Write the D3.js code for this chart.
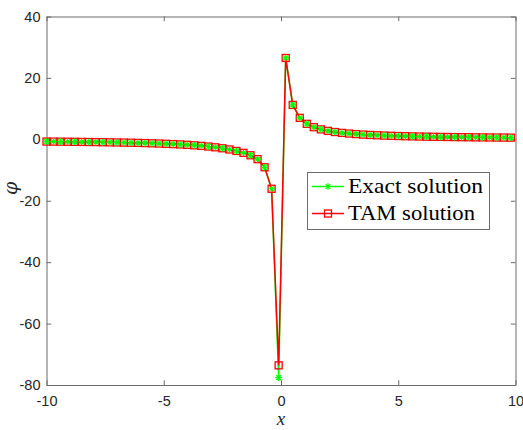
<!DOCTYPE html>
<html>
<head>
<meta charset="utf-8">
<script src="https://cdn.jsdelivr.net/npm/d3@7"></script>
<style>
  html, body { margin: 0; padding: 0; background: #fff; }
  svg { display: block; }
</style>
</head>
<body>
<svg id="chart" width="523" height="430"></svg>
<script>
// Sample points x = -10:0.3:9.8
const xs = d3.range(67).map(i => +(-10 + 0.3 * i).toFixed(1));

// TAM solution values at each sample point
const tamValues = [
  -0.72, -0.74, -0.76, -0.78, -0.81, -0.84, -0.87, -0.90, -0.94, -0.98,
  -1.02, -1.06, -1.11, -1.16, -1.22, -1.29, -1.37, -1.45, -1.55, -1.66,
  -1.80, -1.95, -2.12, -2.34, -2.60, -2.92, -3.30, -3.78, -4.40, -5.20,
  -6.45, -9.10, -16.1, -73.6,
  26.5, 11.2, 7.0, 5.05, 3.95, 3.25, 2.75, 2.38, 2.10, 1.88,
  1.70, 1.55, 1.43, 1.32, 1.23, 1.15, 1.08, 1.02, 0.96, 0.91,
  0.87, 0.83, 0.79, 0.76, 0.73, 0.70, 0.67, 0.65, 0.63, 0.61,
  0.59, 0.57, 0.55
];

// Exact solution values at each sample point
const exactValues = [
  -0.72, -0.74, -0.76, -0.78, -0.81, -0.84, -0.87, -0.90, -0.94, -0.98,
  -1.02, -1.06, -1.11, -1.16, -1.22, -1.29, -1.37, -1.45, -1.55, -1.66,
  -1.80, -1.95, -2.12, -2.34, -2.60, -2.92, -3.30, -3.78, -4.40, -5.20,
  -6.45, -9.10, -16.1, -77.6,
  26.5, 11.2, 7.0, 5.05, 3.95, 3.25, 2.75, 2.38, 2.10, 1.88,
  1.70, 1.55, 1.43, 1.32, 1.23, 1.15, 1.08, 1.02, 0.96, 0.91,
  0.87, 0.83, 0.79, 0.76, 0.73, 0.70, 0.67, 0.65, 0.63, 0.61,
  0.59, 0.57, 0.55
];

const xTicks = [-10, -5, 0, 5, 10];
const yTicks = [-80, -60, -40, -20, 0, 20, 40];
const seriesNames = ["Exact solution", "TAM solution"];

const margin = { left: 46.5, right: 515.5, top: 16.5, bottom: 385 };
const svg = d3.select("#chart");

const x = d3.scaleLinear().domain([-10, 10]).range([margin.left, margin.right]);
const y = d3.scaleLinear().domain([-80, 40]).range([margin.bottom, margin.top]);

const axisColor = "#6b6b6b";
const tickLen = 4.7;
const tickFont = "Liberation Sans, Arial, Helvetica, sans-serif";
const plainFmt = d => String(d);   // hyphen-minus, as in the printed labels

// Axes: bottom/left with labels, top/right mirrored ticks only
const gx = svg.append("g").attr("transform", `translate(0,${margin.bottom})`)
  .call(d3.axisBottom(x).tickValues(xTicks).tickFormat(plainFmt)
    .tickSizeInner(-tickLen).tickSizeOuter(0).tickPadding(11));
const gy = svg.append("g").attr("transform", `translate(${margin.left},0)`)
  .call(d3.axisLeft(y).tickValues(yTicks).tickFormat(plainFmt)
    .tickSizeInner(-tickLen).tickSizeOuter(0).tickPadding(6));
const gxt = svg.append("g").attr("transform", `translate(0,${margin.top})`)
  .call(d3.axisTop(x).tickValues(xTicks).tickSizeInner(-tickLen).tickSizeOuter(0).tickFormat(""));
const gyr = svg.append("g").attr("transform", `translate(${margin.right},0)`)
  .call(d3.axisRight(y).tickValues(yTicks).tickSizeInner(-tickLen).tickSizeOuter(0).tickFormat(""));

[gx, gy, gxt, gyr].forEach(g => {
  g.select(".domain").attr("stroke", axisColor).attr("stroke-width", 1);
  g.selectAll(".tick line").attr("stroke", axisColor).attr("stroke-width", 1);
  g.selectAll(".tick text").attr("fill", "#262626")
    .style("font-family", tickFont).style("font-size", "14.5px");
});
gx.selectAll(".tick text").attr("dy", "0.71em");

// Axis titles
svg.append("text")
  .attr("x", x(0)).attr("y", 425)
  .attr("text-anchor", "middle")
  .style("font-family", "Liberation Serif, Times New Roman, serif")
  .style("font-style", "italic").style("font-size", "19px")
  .attr("fill", "#262626")
  .text("x");
svg.append("text")
  .attr("transform", `translate(17,${y(-16)}) rotate(-90)`)
  .attr("text-anchor", "middle")
  .style("font-family", "DejaVu Serif, Liberation Serif, serif")
  .style("font-style", "italic").style("font-size", "19px")
  .attr("fill", "#262626")
  .text("φ");

const green = "#00ff00";
const red = "#ff0000";

const pts = (vals) => xs.map((d, i) => [d, vals[i]]);
const line = d3.line().x(d => x(d[0])).y(d => y(d[1]));

// Asterisk marker path (MATLAB style '*')
function asterisk(r) {
  const a = r * 0.7071;
  return `M${-r},0L${r},0M0,${-r}L0,${r}M${-a},${-a}L${a},${a}M${-a},${a}L${a},${-a}`;
}

// Exact solution: green line with asterisks
svg.append("path").datum(pts(exactValues))
  .attr("d", line).attr("fill", "none")
  .attr("stroke", green).attr("stroke-width", 1.5);

// TAM solution: red line with open squares
const tam = pts(tamValues);
svg.append("path").datum(tam)
  .attr("d", line).attr("fill", "none")
  .attr("stroke", red).attr("stroke-width", 1.5);
svg.append("g").selectAll("rect").data(tam).join("rect")
  .attr("x", d => x(d[0]) - 3.5).attr("y", d => y(d[1]) - 3.5)
  .attr("width", 7).attr("height", 7)
  .attr("fill", "none").attr("stroke", red).attr("stroke-width", 1.3);

svg.append("g").selectAll("path").data(pts(exactValues)).join("path")
  .attr("transform", d => `translate(${x(d[0])},${y(d[1])})`)
  .attr("d", asterisk(3.3))
  .attr("fill", "none").attr("stroke", green).attr("stroke-width", 1.2);

// Legend
const lg = svg.append("g");
lg.append("rect")
  .attr("x", 307.5).attr("y", 172.5).attr("width", 182).attr("height", 57)
  .attr("fill", "#fff").attr("stroke", axisColor).attr("stroke-width", 1);
const rows = [
  { name: seriesNames[0], color: green, yy: 186.5, marker: "star" },
  { name: seriesNames[1], color: red, yy: 213.5, marker: "square" }
];
rows.forEach(r => {
  lg.append("line")
    .attr("x1", 312).attr("x2", 344).attr("y1", r.yy).attr("y2", r.yy)
    .attr("stroke", r.color).attr("stroke-width", 1.5);
  if (r.marker === "star") {
    lg.append("path").attr("transform", `translate(328,${r.yy})`)
      .attr("d", asterisk(3.3)).attr("fill", "none")
      .attr("stroke", r.color).attr("stroke-width", 1.2);
  } else {
    lg.append("rect").attr("x", 324.5).attr("y", r.yy - 3.5)
      .attr("width", 7).attr("height", 7)
      .attr("fill", "none").attr("stroke", r.color).attr("stroke-width", 1.3);
  }
  lg.append("text")
    .attr("x", 348).attr("y", r.yy + 6.5)
    .style("font-family", "Liberation Serif, Times New Roman, serif")
    .style("font-size", "21px").attr("fill", "#000")
    .attr("textLength", r.marker === "star" ? 135 : 127)
    .attr("lengthAdjust", "spacingAndGlyphs")
    .text(r.name);
});
</script>
</body>
</html>
